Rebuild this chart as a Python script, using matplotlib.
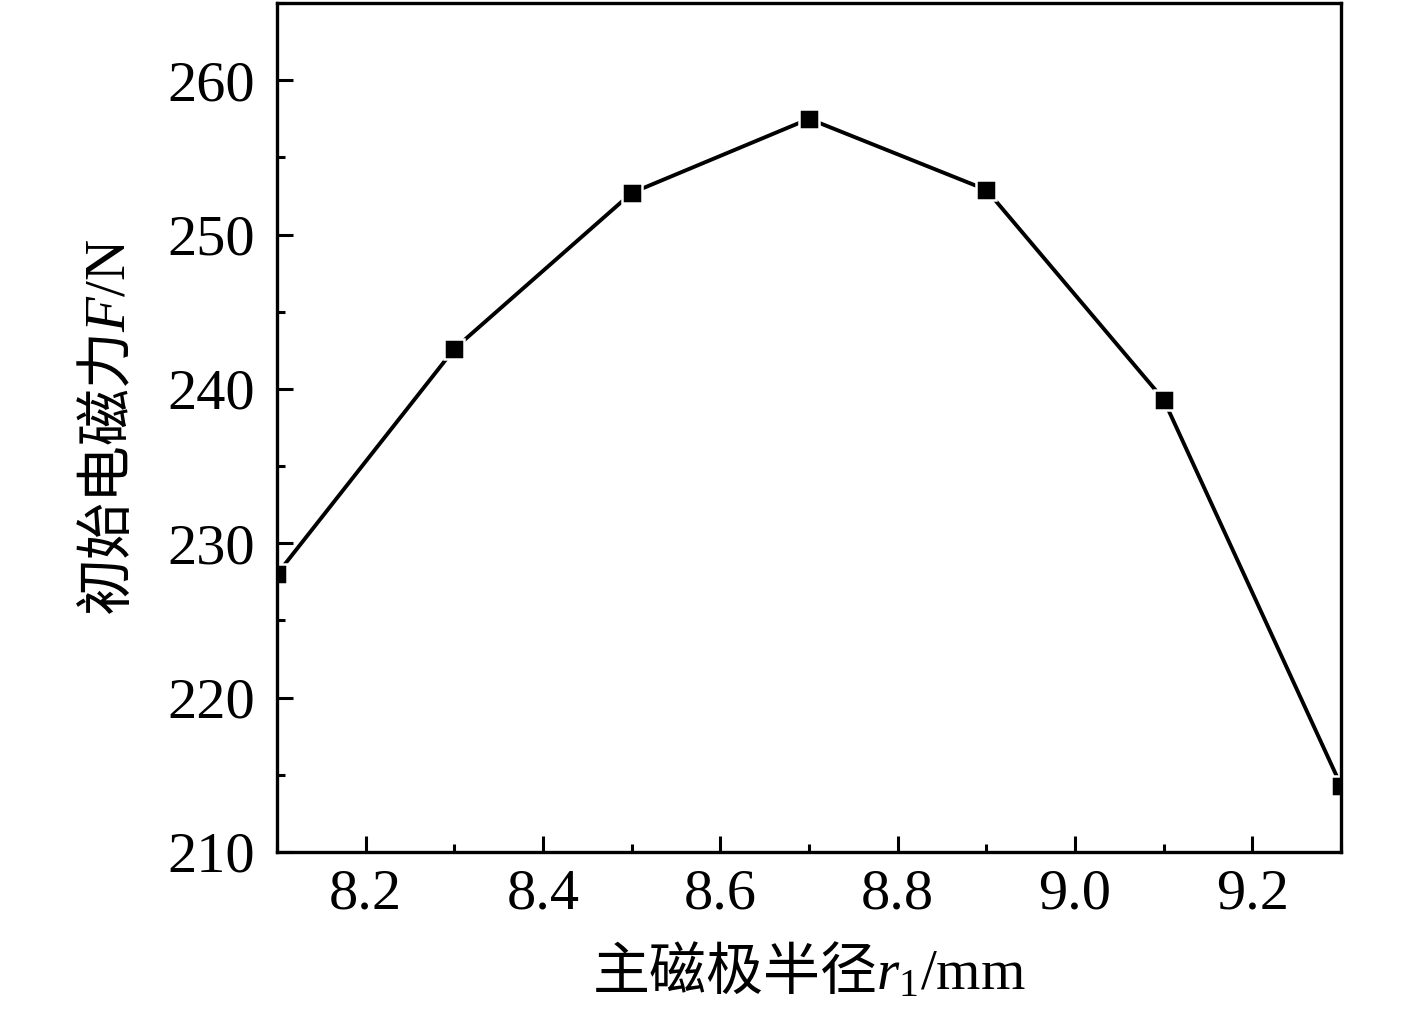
import numpy as np
import matplotlib.pyplot as plt
from matplotlib.ticker import MultipleLocator

# data
radius = [8.1, 8.3, 8.5, 8.7, 8.9, 9.1, 9.3]
force = [228.0, 242.6, 252.7, 257.5, 252.9, 239.3, 214.3]

plt.rcParams['font.family'] = ['Liberation Serif', 'Noto Sans CJK SC']
plt.rcParams['mathtext.fontset'] = 'custom'
plt.rcParams['mathtext.rm'] = 'Liberation Serif'
plt.rcParams['mathtext.it'] = 'Liberation Serif:italic'

fig = plt.figure(figsize=(14.17, 10.25), dpi=100)
ax = fig.add_axes([0.1955, 0.1688, 0.7509, 0.8282])

ax.plot(radius, force, color='black', lw=2.8, marker='s', ms=14,
        mfc='black', mec='white', mew=1.8)

ax.set_xlim(8.1, 9.3)
ax.set_ylim(210, 265)
ax.xaxis.set_minor_locator(MultipleLocator(0.1))
ax.yaxis.set_major_locator(MultipleLocator(10))
ax.yaxis.set_minor_locator(MultipleLocator(5))
ax.set_xticks([8.2, 8.4, 8.6, 8.8, 9.0, 9.2])
ax.set_xticklabels(['8.2', '8.4', '8.6', '8.8', '9.0', '9.2'])

ax.tick_params(which='both', direction='in', width=2.2, top=False, right=False,
               labelsize=42)
ax.tick_params(which='major', length=11.5)
ax.tick_params(which='minor', length=5.5)
ax.tick_params(axis='x', pad=12)
ax.tick_params(axis='y', pad=16)
for s in ax.spines.values():
    s.set_linewidth(2.4)

ax.set_xlabel(r'主磁极半径$r_{1}\mathrm{/mm}$', fontsize=41,
              family='Noto Sans CJK SC', labelpad=16)
ax.set_ylabel(r'初始电磁力$F\mathrm{/N}$', fontsize=41,
              family='Noto Sans CJK SC', labelpad=21)

fig.savefig('out.png', dpi=100)
